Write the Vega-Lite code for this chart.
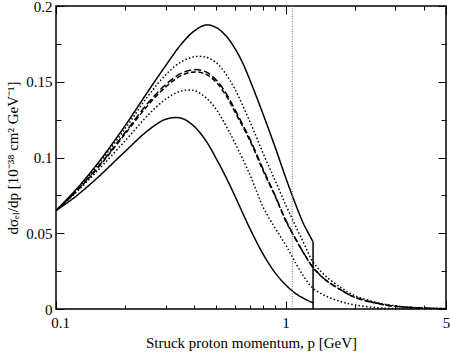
{
  "$schema": "https://vega.github.io/schema/vega-lite/v6.json",
  "width": 390,
  "height": 303,
  "autosize": {"type": "none"},
  "padding": {"left": 56, "top": 6, "right": 4, "bottom": 43},
  "background": "white",
  "config": {
    "view": {"stroke": "black", "strokeWidth": 1.5},
    "axis": {"grid": false, "domain": false, "tickColor": "black", "tickWidth": 1, "labelColor": "black", "titleColor": "black", "labelFont": "Liberation Serif", "titleFont": "Liberation Serif", "labelFontSize": 15, "titleFontSize": 15, "titleFontWeight": "normal"}
  },
  "datasets": {
    "curves": [
      {"s": "S1", "p": 0.1, "y": 0.065}, {"s": "S1", "p": 0.12, "y": 0.0775}, {"s": "S1", "p": 0.15, "y": 0.095}, {"s": "S1", "p": 0.2, "y": 0.121}, {"s": "S1", "p": 0.25, "y": 0.143}, {"s": "S1", "p": 0.3, "y": 0.1605}, {"s": "S1", "p": 0.35, "y": 0.1745}, {"s": "S1", "p": 0.4, "y": 0.1835}, {"s": "S1", "p": 0.45, "y": 0.1875}, {"s": "S1", "p": 0.5, "y": 0.1857}, {"s": "S1", "p": 0.55, "y": 0.1803}, {"s": "S1", "p": 0.6, "y": 0.1723}, {"s": "S1", "p": 0.65, "y": 0.1625}, {"s": "S1", "p": 0.7, "y": 0.151}, {"s": "S1", "p": 0.8, "y": 0.1282}, {"s": "S1", "p": 0.9, "y": 0.107}, {"s": "S1", "p": 1.0, "y": 0.087}, {"s": "S1", "p": 1.1, "y": 0.07}, {"s": "S1", "p": 1.2, "y": 0.056}, {"s": "S1", "p": 1.318, "y": 0.0444},
      {"s": "S2", "p": 0.1, "y": 0.065}, {"s": "S2", "p": 0.12, "y": 0.0735}, {"s": "S2", "p": 0.15, "y": 0.086}, {"s": "S2", "p": 0.2, "y": 0.104}, {"s": "S2", "p": 0.25, "y": 0.1175}, {"s": "S2", "p": 0.3, "y": 0.1252}, {"s": "S2", "p": 0.35, "y": 0.126}, {"s": "S2", "p": 0.4, "y": 0.1205}, {"s": "S2", "p": 0.45, "y": 0.111}, {"s": "S2", "p": 0.5, "y": 0.099}, {"s": "S2", "p": 0.55, "y": 0.087}, {"s": "S2", "p": 0.6, "y": 0.075}, {"s": "S2", "p": 0.7, "y": 0.053}, {"s": "S2", "p": 0.8, "y": 0.036}, {"s": "S2", "p": 0.9, "y": 0.024}, {"s": "S2", "p": 1.0, "y": 0.016}, {"s": "S2", "p": 1.1, "y": 0.0105}, {"s": "S2", "p": 1.2, "y": 0.007}, {"s": "S2", "p": 1.318, "y": 0.004},
      {"s": "D1", "p": 0.1, "y": 0.065}, {"s": "D1", "p": 0.12, "y": 0.0765}, {"s": "D1", "p": 0.15, "y": 0.0925}, {"s": "D1", "p": 0.2, "y": 0.1165}, {"s": "D1", "p": 0.25, "y": 0.1355}, {"s": "D1", "p": 0.3, "y": 0.148}, {"s": "D1", "p": 0.35, "y": 0.1555}, {"s": "D1", "p": 0.4, "y": 0.158}, {"s": "D1", "p": 0.45, "y": 0.1565}, {"s": "D1", "p": 0.5, "y": 0.151}, {"s": "D1", "p": 0.55, "y": 0.1425}, {"s": "D1", "p": 0.6, "y": 0.132}, {"s": "D1", "p": 0.7, "y": 0.112}, {"s": "D1", "p": 0.8, "y": 0.092}, {"s": "D1", "p": 0.9, "y": 0.075}, {"s": "D1", "p": 1.0, "y": 0.059}, {"s": "D1", "p": 1.1, "y": 0.047}, {"s": "D1", "p": 1.2, "y": 0.037}, {"s": "D1", "p": 1.318, "y": 0.0275}, {"s": "D1", "p": 1.5, "y": 0.019}, {"s": "D1", "p": 1.75, "y": 0.0125}, {"s": "D1", "p": 2, "y": 0.0078}, {"s": "D1", "p": 2.5, "y": 0.0038}, {"s": "D1", "p": 3, "y": 0.0018}, {"s": "D1", "p": 4, "y": 0.0006}, {"s": "D1", "p": 5, "y": 0.0002},
      {"s": "D2", "p": 0.1, "y": 0.065}, {"s": "D2", "p": 0.12, "y": 0.0762}, {"s": "D2", "p": 0.15, "y": 0.092}, {"s": "D2", "p": 0.2, "y": 0.1155}, {"s": "D2", "p": 0.25, "y": 0.134}, {"s": "D2", "p": 0.3, "y": 0.1465}, {"s": "D2", "p": 0.35, "y": 0.154}, {"s": "D2", "p": 0.4, "y": 0.1565}, {"s": "D2", "p": 0.45, "y": 0.155}, {"s": "D2", "p": 0.5, "y": 0.1495}, {"s": "D2", "p": 0.55, "y": 0.141}, {"s": "D2", "p": 0.6, "y": 0.1305}, {"s": "D2", "p": 0.7, "y": 0.111}, {"s": "D2", "p": 0.8, "y": 0.091}, {"s": "D2", "p": 0.9, "y": 0.0745}, {"s": "D2", "p": 1.0, "y": 0.0585}, {"s": "D2", "p": 1.1, "y": 0.0467}, {"s": "D2", "p": 1.2, "y": 0.0368}, {"s": "D2", "p": 1.318, "y": 0.0273}, {"s": "D2", "p": 1.5, "y": 0.0189}, {"s": "D2", "p": 1.75, "y": 0.0124}, {"s": "D2", "p": 2, "y": 0.0077}, {"s": "D2", "p": 2.5, "y": 0.0037}, {"s": "D2", "p": 3, "y": 0.0018}, {"s": "D2", "p": 4, "y": 0.0006}, {"s": "D2", "p": 5, "y": 0.0002},
      {"s": "P1", "p": 0.1, "y": 0.065}, {"s": "P1", "p": 0.12, "y": 0.077}, {"s": "P1", "p": 0.15, "y": 0.094}, {"s": "P1", "p": 0.2, "y": 0.119}, {"s": "P1", "p": 0.25, "y": 0.14}, {"s": "P1", "p": 0.3, "y": 0.1545}, {"s": "P1", "p": 0.35, "y": 0.163}, {"s": "P1", "p": 0.4, "y": 0.1665}, {"s": "P1", "p": 0.45, "y": 0.1662}, {"s": "P1", "p": 0.5, "y": 0.1625}, {"s": "P1", "p": 0.55, "y": 0.155}, {"s": "P1", "p": 0.6, "y": 0.1455}, {"s": "P1", "p": 0.7, "y": 0.1235}, {"s": "P1", "p": 0.8, "y": 0.1025}, {"s": "P1", "p": 0.9, "y": 0.085}, {"s": "P1", "p": 1.0, "y": 0.069}, {"s": "P1", "p": 1.1, "y": 0.0555}, {"s": "P1", "p": 1.2, "y": 0.0435}, {"s": "P1", "p": 1.318, "y": 0.031}, {"s": "P1", "p": 1.5, "y": 0.0215}, {"s": "P1", "p": 1.75, "y": 0.014}, {"s": "P1", "p": 2, "y": 0.0088}, {"s": "P1", "p": 2.5, "y": 0.0043}, {"s": "P1", "p": 3, "y": 0.0021}, {"s": "P1", "p": 4, "y": 0.0007}, {"s": "P1", "p": 5, "y": 0.0003},
      {"s": "P2", "p": 0.1, "y": 0.065}, {"s": "P2", "p": 0.12, "y": 0.0758}, {"s": "P2", "p": 0.15, "y": 0.0905}, {"s": "P2", "p": 0.2, "y": 0.111}, {"s": "P2", "p": 0.25, "y": 0.1275}, {"s": "P2", "p": 0.3, "y": 0.1385}, {"s": "P2", "p": 0.35, "y": 0.1438}, {"s": "P2", "p": 0.4, "y": 0.1442}, {"s": "P2", "p": 0.45, "y": 0.1395}, {"s": "P2", "p": 0.5, "y": 0.1315}, {"s": "P2", "p": 0.55, "y": 0.121}, {"s": "P2", "p": 0.6, "y": 0.11}, {"s": "P2", "p": 0.7, "y": 0.0885}, {"s": "P2", "p": 0.8, "y": 0.067}, {"s": "P2", "p": 0.9, "y": 0.0535}, {"s": "P2", "p": 1.0, "y": 0.0425}, {"s": "P2", "p": 1.1, "y": 0.031}, {"s": "P2", "p": 1.2, "y": 0.0215}, {"s": "P2", "p": 1.318, "y": 0.0137}, {"s": "P2", "p": 1.5, "y": 0.0085}, {"s": "P2", "p": 1.75, "y": 0.0048}, {"s": "P2", "p": 2, "y": 0.0027}, {"s": "P2", "p": 2.5, "y": 0.0009}, {"s": "P2", "p": 3, "y": 0.0003}, {"s": "P2", "p": 4, "y": 0.0001}, {"s": "P2", "p": 5, "y": 0.0}
    ],
    "cut": [{"p": 1.318, "y": 0.0444, "y2": 0}],
    "marker": [{"p": 1.07}]
  },
  "resolve": {"axis": {"x": "independent", "y": "independent"}},
  "layer": [
    {
      "data": {"name": "curves"},
      "mark": {"type": "line", "interpolate": "catmull-rom", "color": "black", "clip": true},
      "encoding": {
        "x": {"field": "p", "type": "quantitative", "scale": {"type": "log", "domain": [0.1, 5], "nice": false},
          "axis": {"orient": "bottom", "values": [0.1, 0.2, 0.3, 0.4, 0.5, 0.6, 0.7, 0.8, 0.9, 1, 2, 3, 4, 5],
            "labelExpr": "datum.value == 0.1 ? '0.1' : datum.value == 1 ? '1' : datum.value == 5 ? '5' : ''",
            "tickSize": {"condition": {"test": "datum.value == 0.1 || datum.value == 1 || datum.value == 5", "value": -8}, "value": -4},
            "labelOffset": {"condition": {"test": "datum.value == 0.1", "value": 4}, "value": 0},
            "labelPadding": 14, "labelFlush": false, "labelOverlap": false,
            "title": "Struck proton momentum, p [GeV]", "titleBaseline": "alphabetic", "titleY": 38}},
        "y": {"field": "y", "type": "quantitative", "scale": {"domain": [0, 0.2], "nice": false},
          "axis": {"orient": "left", "values": [0, 0.025, 0.05, 0.075, 0.1, 0.125, 0.15, 0.175, 0.2],
            "labelExpr": "round(datum.value * 1000) % 50 == 0 ? format(datum.value, '~g') : ''",
            "tickSize": {"condition": {"test": "round(datum.value * 1000) % 50 == 0", "value": -8}, "value": -5},
            "labelPadding": 12, "labelOverlap": false, "labelFlush": false,
            "title": "dσₑₗ/dp [10⁻³⁸ cm² GeV⁻¹]", "titleBaseline": "alphabetic", "titleX": -39}},
        "detail": {"field": "s", "type": "nominal"},
        "strokeDash": {"field": "s", "type": "nominal", "legend": null,
          "scale": {"domain": ["S1", "S2", "D1", "D2", "P1", "P2"], "range": [[1, 0], [1, 0], [7, 3], [5, 2.5], [1.5, 2.2], [1.5, 2.2]]}},
        "strokeWidth": {"field": "s", "type": "nominal", "legend": null,
          "scale": {"domain": ["S1", "S2", "D1", "D2", "P1", "P2"], "range": [1.5, 1.5, 2.2, 1.1, 1.6, 1.6]}}
      }
    },
    {
      "data": {"name": "cut"},
      "mark": {"type": "rule", "color": "black", "strokeWidth": 1.5},
      "encoding": {
        "x": {"field": "p", "type": "quantitative", "axis": null},
        "y": {"field": "y", "type": "quantitative", "axis": null},
        "y2": {"field": "y2"}
      }
    },
    {
      "data": {"name": "marker"},
      "mark": {"type": "rule", "color": "#777777", "strokeWidth": 1, "strokeDash": [1, 1.5]},
      "encoding": {
        "x": {"field": "p", "type": "quantitative", "axis": null}
      }
    },
    {
      "data": {"name": "curves"},
      "mark": {"type": "point", "opacity": 0},
      "encoding": {
        "x": {"field": "p", "type": "quantitative",
          "axis": {"orient": "top", "values": [0.1, 0.2, 0.3, 0.4, 0.5, 0.6, 0.7, 0.8, 0.9, 1, 2, 3, 4, 5], "labels": false, "title": null,
            "tickSize": {"condition": {"test": "datum.value == 0.1 || datum.value == 1 || datum.value == 5", "value": -8}, "value": -4}}},
        "y": {"field": "y", "type": "quantitative",
          "axis": {"orient": "right", "values": [0, 0.025, 0.05, 0.075, 0.1, 0.125, 0.15, 0.175, 0.2], "labels": false, "title": null,
            "tickSize": {"condition": {"test": "round(datum.value * 1000) % 50 == 0", "value": -8}, "value": -5}}}
      }
    }
  ]
}
